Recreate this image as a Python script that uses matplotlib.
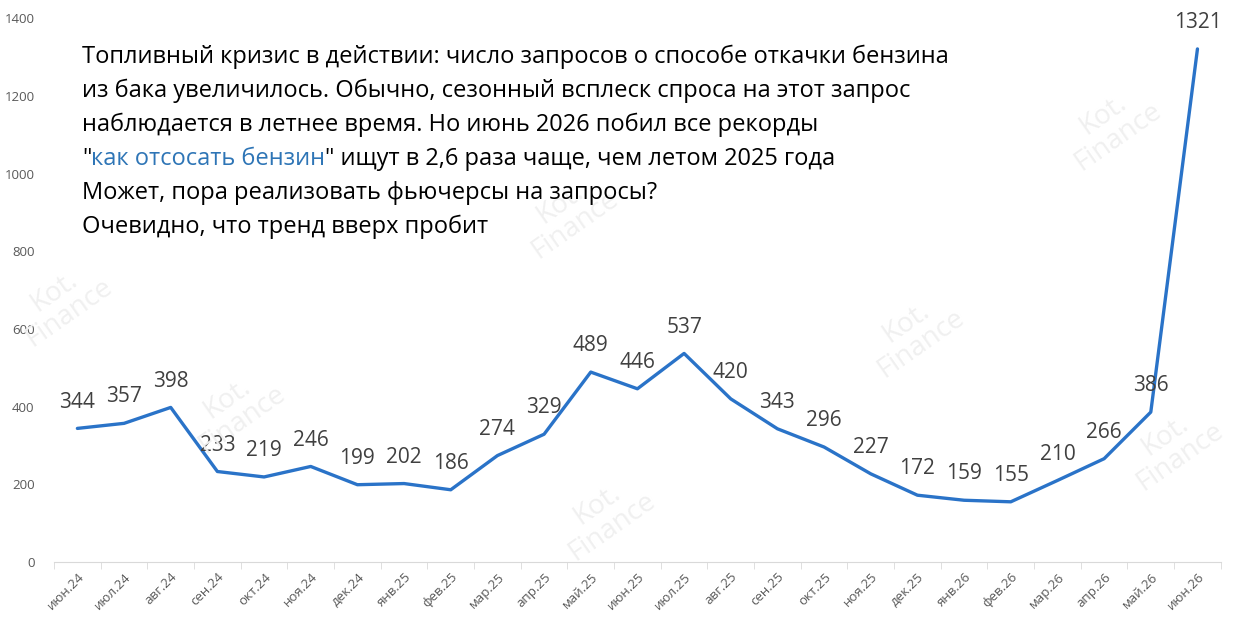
import matplotlib
matplotlib.use("Agg")
import matplotlib.pyplot as plt

months = ["июн.24", "июл.24", "авг.24", "сен.24", "окт.24", "ноя.24", "дек.24",
          "янв.25", "фев.25", "мар.25", "апр.25", "май.25", "июн.25", "июл.25",
          "авг.25", "сен.25", "окт.25", "ноя.25", "дек.25", "янв.26", "фев.26",
          "мар.26", "апр.26", "май.26", "июн.26"]
queries = [344, 357, 398, 233, 219, 246, 199, 202, 186, 274, 329, 489, 446, 537,
           420, 343, 296, 227, 172, 159, 155, 210, 266, 386, 1321]

text_lines = [
    "Топливный кризис в действии: число запросов о способе откачки бензина",
    "из бака увеличилось. Обычно, сезонный всплеск спроса на этот запрос",
    "наблюдается в летнее время. Но июнь 2026 побил все рекорды",
    None,
    "Может, пора реализовать фьючерсы на запросы?",
    "Очевидно, что тренд вверх пробит",
]
highlight_parts = [('"', "black"), ("как отсосать бензин", "#2e75b6"),
                   ('" ищут в 2,6 раза чаще, чем летом 2025 года', "black")]

# faint watermark positions (figure fractions)
watermarks = [(0.46, 0.66), (0.05, 0.52), (0.19, 0.35),
              (0.74, 0.47), (0.49, 0.18), (0.95, 0.29), (0.90, 0.80)]

plt.rcParams['font.family'] = ['Open Sans', 'DejaVu Sans']
blue = "#2a73c8"

fig = plt.figure(figsize=(12.34, 6.29), dpi=100)

for wx, wy in watermarks:
    fig.text(wx, wy, "Kot.\nFinance", fontsize=20, color="#f0f0f0", rotation=35,
             ha="center", va="center", linespacing=0.9, zorder=0)

ax = fig.add_axes([0.0438, 0.1065, 0.9455, 0.8645])
ax.patch.set_alpha(0)

x = list(range(len(months)))
ax.plot(x, queries, color=blue, linewidth=2.4, solid_capstyle="round")
for i, v in zip(x, queries):
    ax.annotate(str(v), (i, v), xytext=(0, 19), textcoords="offset points",
                ha="center", va="center", fontsize=15, color="#404040")

ax.set_xlim(-0.5, len(months) - 0.5)
ax.set_ylim(0, 1400)
ax.set_yticks(range(0, 1401, 200))
ax.set_xticks(x)
ax.set_xticklabels(months, rotation=45, ha="right", rotation_mode="anchor",
                   fontsize=9.5, color="#595959")
ax.set_xticks([i - 0.5 for i in range(len(months) + 1)], minor=True)
ax.tick_params(axis="x", which="major", length=0, pad=6)
ax.tick_params(axis="x", which="minor", length=5, color="#d9d9d9")
ax.tick_params(axis="y", length=0, labelsize=9.5, labelcolor="#595959", pad=14)
for s in ["top", "right", "left"]:
    ax.spines[s].set_visible(False)
ax.spines["bottom"].set_color("#d9d9d9")

# annotation block
fs = 17
y0 = 1-57/629
step = 34/629
x0 = 82/1234
renderer = fig.canvas.get_renderer()
for k, line in enumerate(text_lines):
    yy = y0 - k*step
    if line is not None:
        fig.text(x0, yy, line, fontsize=fs, color="black", va="center", ha="left")
    else:
        xx = x0
        for part, col in highlight_parts:
            t = fig.text(xx, yy, part, fontsize=fs, color=col, va="center", ha="left")
            bb = t.get_window_extent(renderer=renderer)
            xx += bb.width / fig.bbox.width

fig.savefig("out.png", dpi=100)
